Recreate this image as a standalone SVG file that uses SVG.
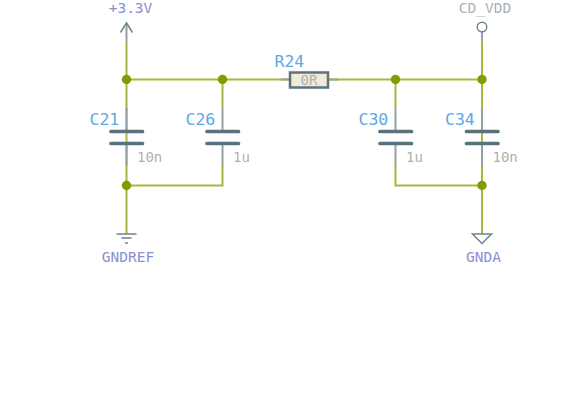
<svg xmlns="http://www.w3.org/2000/svg" width="562" height="414" viewBox="0 0 562 414">
<style>
text{font-family:"DejaVu Sans Mono",monospace}
.w{fill:none;stroke:#a8b83a;stroke-width:2}
.p{fill:none;stroke:#93a1a8;stroke-width:2}
.s{fill:none;stroke:#6f848d;stroke-width:1.5}
.plate{fill:none;stroke:#5b727c;stroke-width:3.7;stroke-linecap:round}
.j{fill:#859900}
.ref{font-size:16.5px;fill:#5aa9e6}
.val{font-size:14px;fill:#aab3b2}
.pow{font-size:14.5px;fill:#8a8fd0;text-anchor:middle}
</style>
<rect width="562" height="414" fill="#ffffff"/>
<g id="connectors">
<path class="w" d="M126.500 42V185.500M126.500 185.500V233M126.500 79.500H289M329 79.500H482M222.500 79.500V108M395.500 79.500V108M482 42V233M126.500 185.500H222.500V166M395.500 166V185.500H482"/>
</g>
<g id="pwr33">
<path class="p" d="M126.500 42V24"/>
<path class="s" d="M120.500 32.500L126.500 23L132.500 32.500"/>
<text class="pow" x="130.500" y="13">+3.3V</text>
</g>
<g id="cdvdd">
<path class="p" d="M482 42V32"/>
<circle cx="482" cy="27" r="4.800" fill="#fff" stroke="#6f848d" stroke-width="1.400"/>
<text x="485" y="13" text-anchor="middle" style="font-size:14.500px;fill:#aab3b2">CD_VDD</text>
</g>
<g id="C21">
<path class="p" d="M126.500 108V131M126.500 144V166"/>
<path class="plate" d="M111 131.500H142.500M111 143.500H142.500"/>
<text class="ref" x="89.500" y="125">C21</text>
<text class="val" x="137" y="162">10n</text>
</g>
<g id="C26">
<path class="p" d="M222.500 108V131M222.500 144V166"/>
<path class="plate" d="M207 131.500H238.500M207 143.500H238.500"/>
<text class="ref" x="185.500" y="125">C26</text>
<text class="val" x="233" y="162">1u</text>
</g>
<g id="C30">
<path class="p" d="M395.500 108V131M395.500 144V166"/>
<path class="plate" d="M380 131.500H411.500M380 143.500H411.500"/>
<text class="ref" x="358.500" y="125">C30</text>
<text class="val" x="406" y="162">1u</text>
</g>
<g id="C34">
<path class="p" d="M482 108V131M482 144V166"/>
<path class="plate" d="M466.500 131.500H498M466.500 143.500H498"/>
<text class="ref" x="445" y="125">C34</text>
<text class="val" x="492.500" y="162">10n</text>
</g>
<g id="R24">
<path class="p" d="M281 79.500H290M328 79.500H338"/>
<rect x="290" y="72.500" width="38" height="15" fill="#f2ead6" stroke="#5b727c" stroke-width="2.500"/>
<text x="309" y="85" text-anchor="middle" style="font-size:14px;fill:#aab3b2">0R</text>
<text class="ref" x="274.500" y="67">R24</text>
</g>
<g id="GNDREF">
<path class="p" d="M126.500 233V234"/>
<path class="s" d="M116.500 234H136.500M121.500 238H131.500M125 243H128"/>
<text class="pow" x="128" y="262">GNDREF</text>
</g>
<g id="GNDA">
<path class="p" d="M482 233V234"/>
<path class="s" d="M472.500 234H491.500L482 243.500Z"/>
<text class="pow" x="483.500" y="262">GNDA</text>
</g>
<g id="junctions">
<circle class="j" cx="126.500" cy="79.500" r="4.700"/>
<circle class="j" cx="222.500" cy="79.500" r="4.700"/>
<circle class="j" cx="395.500" cy="79.500" r="4.700"/>
<circle class="j" cx="482" cy="79.500" r="4.700"/>
<circle class="j" cx="126.500" cy="185.500" r="4.700"/>
<circle class="j" cx="482" cy="185.500" r="4.700"/>
</g>
</svg>
